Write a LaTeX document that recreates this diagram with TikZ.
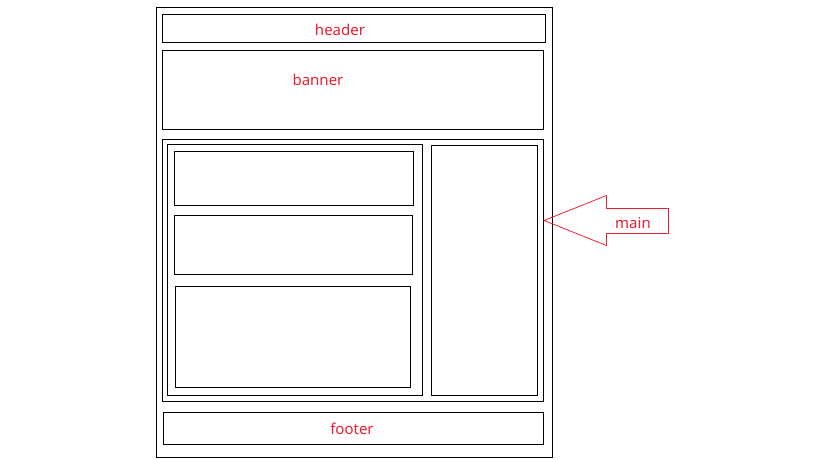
\documentclass[tikz,border=0pt]{standalone}
\usepackage{fontspec}
\setmainfont{Noto Sans}
\begin{document}
\begin{tikzpicture}[x=1pt,y=-1pt,
  box/.style={draw=black,line width=0.9pt,rectangle,inner sep=0pt,anchor=north west},
  lbl/.style={text=labelred,font=\fontsize{15}{17}\selectfont,inner sep=0pt},
  callout/.style={draw=labelred,line width=0.8pt,line join=miter}]
\definecolor{labelred}{RGB}{235,30,50}
\useasboundingbox (0,0) rectangle (819,460);
% page frame and its regions
\node[box,minimum width=395.5pt,minimum height=450pt] (page) at (156,7) {};
\node[box,minimum width=383pt,minimum height=28pt] (header) at (162,14) {};
\node[box,minimum width=381pt,minimum height=78.5pt] (banner) at (162,50) {};
\node[box,minimum width=381pt,minimum height=262pt] (main) at (162,139) {};
\node[box,minimum width=255pt,minimum height=251pt] (leftcol) at (167,144) {};
\node[box,minimum width=106pt,minimum height=249.5pt] (rightcol) at (431,145) {};
\node[box,minimum width=239pt,minimum height=54pt] (item1) at (174,151) {};
\node[box,minimum width=238pt,minimum height=59pt] (item2) at (174,215) {};
\node[box,minimum width=235pt,minimum height=101pt] (item3) at (175,286) {};
\node[box,minimum width=380pt,minimum height=31.5pt] (footer) at (163,412) {};
% labels
\node[lbl] (headerlbl) at (340,30) {header};
\node[lbl] (bannerlbl) at (318,80) {banner};
\node[lbl] (footerlbl) at (352,429) {footer};
% arrow pointing at the main area
\coordinate (tip) at (544,220.5);
\draw[callout] (tip) -- (606.5,195.5) -- (606.5,208.5) -- (668.5,208.5)
  -- (668.5,233.5) -- (606.5,233.5) -- (606.5,245.5) -- cycle;
\node[lbl] (mainlbl) at (633,223.5) {main};
\end{tikzpicture}
\end{document}
